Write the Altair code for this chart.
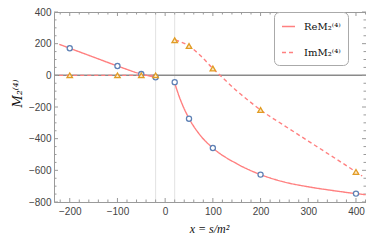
import altair as alt
import pandas as pd

# ---------------- data ----------------
pt_x = [-200, -100, -50, -20, 20, 50, 100, 200, 400]
re_pt_y = [171, 59, 8, -12, -43, -274, -459, -627, -747]
im_pt_y = [0, 0, 0, 0, 222, 185, 43, -219, -610]

re_left_x = [-222, -200, -150, -100, -50, -20]
re_left_y = [196, 171, 115, 59, 8, -12]
re_right_x = [21, 28, 36.5, 50, 75, 100, 150, 200, 250, 300, 350, 400, 420]
re_right_y = [-58, -122, -188, -272, -384, -459, -558, -627, -674, -704, -727, -747, -754]
im_left_x = [-222, -20]
im_left_y = [0, 0]
im_right_x = [21, 30, 50, 75, 100, 125, 150, 175, 200, 250, 300, 350, 400, 413]
im_right_y = [223, 214, 185, 122, 43, -28, -98, -160, -219, -318, -415, -512, -610, -636]

series_labels = ["ReM₂⁽⁴⁾", "ImM₂⁽⁴⁾"]
x_labels = [-200, -100, 0, 100, 200, 300, 400]
y_labels = [-800, -600, -400, -200, 0, 200, 400]
x_minor = [v for v in range(-220, 421, 20) if v % 100 != 0]
y_minor = [v for v in range(-750, 351, 50) if v % 200 != 0]
x_guides = [-20, 20]
y_zero = [0]

# ---------------- styling ----------------
RED = "#FF8080"
BLUE = "#5E81B5"
ORANGE = "#E19C24"
FRAME = "#9a9a9a"
W, H = 312, 190

rows = []
for xs, ys, s, b in [
    (re_left_x, re_left_y, series_labels[0], "re_l"),
    (re_right_x, re_right_y, series_labels[0], "re_r"),
    (im_left_x, im_left_y, series_labels[1], "im_l"),
    (im_right_x, im_right_y, series_labels[1], "im_r"),
]:
    for xv, yv in zip(xs, ys):
        rows.append({"x": xv, "y": yv, "series": s, "branch": b})
lines_df = pd.DataFrame(rows)
re_pts = pd.DataFrame({"x": pt_x, "y": re_pt_y})
im_pts = pd.DataFrame({"x": pt_x, "y": im_pt_y})

xscale = alt.Scale(domain=[-233, 421], nice=False, zero=False)
yscale = alt.Scale(domain=[-800, 400], nice=False, zero=False)

x_axis = alt.Axis(
    values=x_labels, ticks=False, domain=False, grid=False, labelPadding=4,
    labelOverlap=False,
    title="x = s/m²", titleFont="Liberation Serif", titleFontStyle="italic",
    titleFontWeight="normal", titleFontSize=12, titleColor="#111",
    titleX=155, titleY=26, titleBaseline="middle")
y_axis = alt.Axis(
    values=y_labels, ticks=False, domain=False, grid=False, labelPadding=3,
    labelOverlap=False,
    title="M₂⁽⁴⁾", titleFont="DejaVu Serif", titleFontStyle="italic",
    titleFontWeight="normal", titleFontSize=12, titleColor="#111",
    titleX=-37, titleY=81, titleBaseline="middle", titleAngle=270)

def xq():
    return alt.X("x:Q", scale=xscale, axis=x_axis)

def yq():
    return alt.Y("y:Q", scale=yscale, axis=y_axis)

vguides = alt.Chart(pd.DataFrame({"x": x_guides})).mark_rule(
    color="#e2e2e2", strokeWidth=1).encode(x=xq())
hzero = alt.Chart(pd.DataFrame({"y": y_zero})).mark_rule(
    color="#8a8a8a", strokeWidth=1.5).encode(y=yq())

def xticks(vals, length):
    d = pd.DataFrame({"x": vals})
    b = alt.Chart(d).mark_rule(color=FRAME, strokeWidth=1).encode(
        x=xq(), y=alt.value(H), y2=alt.value(H - length))
    t = alt.Chart(d).mark_rule(color=FRAME, strokeWidth=1).encode(
        x=xq(), y=alt.value(0), y2=alt.value(length))
    return [b, t]

def yticks(vals, length):
    d = pd.DataFrame({"y": vals})
    l = alt.Chart(d).mark_rule(color=FRAME, strokeWidth=1).encode(
        y=yq(), x=alt.value(0), x2=alt.value(length))
    r = alt.Chart(d).mark_rule(color=FRAME, strokeWidth=1).encode(
        y=yq(), x=alt.value(W), x2=alt.value(W - length))
    return [l, r]

ticks = (xticks(x_labels, 4) + xticks(x_minor, 2.5) +
         yticks(y_labels, 4) + yticks(y_minor, 2.5))

lines = alt.Chart(lines_df).mark_line(
    color=RED, strokeWidth=1.4, interpolate="monotone").encode(
    x=xq(), y=yq(),
    strokeDash=alt.StrokeDash("series:N", scale=alt.Scale(
        domain=series_labels, range=[[1, 0], [4, 3]]),
        legend=alt.Legend(
            title=None, orient="none", legendX=220, legendY=0,
            fillColor="white", strokeColor="#aaaaaa", cornerRadius=5,
            padding=7, rowPadding=13, symbolType="stroke", symbolSize=169,
            symbolStrokeWidth=1.5, symbolStrokeColor=RED, labelOffset=8,
            labelFont="DejaVu Serif", labelFontSize=10, labelColor="#111")),
    detail="branch:N")

re_marks = alt.Chart(re_pts).mark_point(
    shape="circle", size=26, filled=True, fill="white", stroke=BLUE,
    strokeWidth=1.3, opacity=1).encode(x=xq(), y=yq())
im_marks = alt.Chart(im_pts).mark_point(
    shape="triangle-up", size=30, filled=True, fill="#fbe7c4", stroke=ORANGE,
    strokeWidth=1.3, opacity=1).encode(x=xq(), y=yq())

chart = alt.layer(vguides, hzero, *ticks, lines, re_marks, im_marks).properties(
    width=W, height=H,
    autosize=alt.AutoSizeParams(type="none"),
    padding={"left": 46, "top": 4, "right": 0, "bottom": 32},
).configure_view(stroke=FRAME, strokeWidth=1).configure_axis(
    labelFont="Liberation Sans", labelFontSize=10, labelColor="#444",
    labelOverlap=False)

chart.save("out.html", embed_options={"renderer": "svg", "actions": False})
